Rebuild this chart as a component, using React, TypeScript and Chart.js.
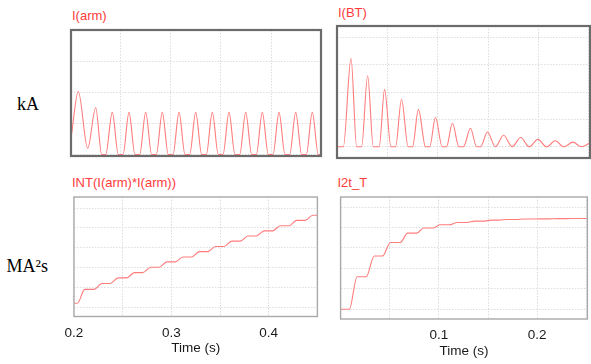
import React, { useEffect, useRef } from 'react';
import { Chart, registerables } from 'chart.js';

Chart.register(...registerables);

// ---- Data ----
// I(arm) [kA] vs time [s]
const ARM_T = [
  0.2, 0.2073, 0.2167, 0.2247, 0.2307, 0.2347, 0.2413, 0.2473, 0.252, 0.258,
  0.264, 0.2687, 0.2747, 0.2807, 0.2853, 0.2913, 0.2973, 0.302, 0.308, 0.314,
  0.3187, 0.3247, 0.3307, 0.3353, 0.3413, 0.3473, 0.352, 0.358, 0.364, 0.3687,
  0.3747, 0.3807, 0.3853, 0.3913, 0.3973, 0.402, 0.408, 0.414, 0.4187, 0.4247,
  0.4307, 0.4353, 0.4413, 0.4473, 0.45,
];
const ARM_KA = [
  0.52, 2.03, 0.2, 1.51, 0, 0, 1.36, 0, 0, 1.36,
  0, 0, 1.36, 0, 0, 1.36, 0, 0, 1.36, 0,
  0, 1.36, 0, 0, 1.36, 0, 0, 1.36, 0, 0,
  1.36, 0, 0, 1.36, 0, 0, 1.36, 0, 0, 1.36,
  0, 0, 1.36, 0, 0,
];

// I(BT) [kA] vs time [s]
const BT_T = [
  0, 0.0063, 0.0139, 0.0195, 0.0244, 0.0304, 0.036, 0.0419, 0.0472, 0.0535,
  0.0581, 0.064, 0.0706, 0.0749, 0.0808, 0.0878, 0.092, 0.0977, 0.1043, 0.1086,
  0.1145, 0.121, 0.1255, 0.1324, 0.1385, 0.1425, 0.1492, 0.1572, 0.1653, 0.1737,
  0.1822, 0.1907, 0.1993, 0.2079, 0.2165, 0.2252, 0.234, 0.2425, 0.251,
];
const BT_KA = [
  0, 0, 3.24, 0, 0, 2.6, 0, 0, 2.1, 0,
  0, 1.74, 0, 0, 1.37, 0, 0, 1.08, 0, 0,
  0.86, 0, 0, 0.68, 0, 0, 0.54, 0, 0.42, 0,
  0.34, 0, 0.27, 0, 0.22, 0, 0.17, 0, 0.14,
];

// INT(I(arm)*I(arm)) [MA²s] vs time [s]
const INT_T = [
  0.2, 0.2035, 0.211, 0.2207, 0.2287, 0.2373, 0.2453, 0.254, 0.262, 0.2707,
  0.2787, 0.2873, 0.2953, 0.304, 0.312, 0.3207, 0.3287, 0.3373, 0.3453, 0.354,
  0.362, 0.3707, 0.3787, 0.3873, 0.3953, 0.404, 0.412, 0.4207, 0.4287, 0.4373,
  0.4453, 0.45,
];
const INT_MA2S = [
  0.19, 0.19, 0.89, 0.89, 1.19, 1.19, 1.47, 1.47, 1.74, 1.74,
  2.01, 2.01, 2.28, 2.28, 2.53, 2.53, 2.8, 2.8, 3.06, 3.06,
  3.33, 3.33, 3.59, 3.59, 3.85, 3.85, 4.11, 4.11, 4.38, 4.38,
  4.64, 4.64,
];

// I2t_T [MA²s] vs time [s]
const I2T_T = [
  0, 0.0089, 0.0168, 0.026, 0.0343, 0.0426, 0.0508, 0.0605, 0.0683, 0.0775,
  0.0845, 0.094, 0.101, 0.1105, 0.1185, 0.1285, 0.1365, 0.1452, 0.1532, 0.1613,
  0.1693, 0.1782, 0.1862, 0.1953, 0.2033, 0.2125, 0.2205, 0.23, 0.238, 0.251,
];
const I2T_MA2S = [
  0, 0, 1.59, 1.59, 2.6, 2.6, 3.26, 3.26, 3.72, 3.72,
  3.97, 3.97, 4.13, 4.13, 4.24, 4.24, 4.31, 4.31, 4.36, 4.36,
  4.39, 4.39, 4.41, 4.41, 4.42, 4.42, 4.43, 4.43, 4.44, 4.44,
];

const LEFT_TICK_LABELS = [0.2, 0.3, 0.4];
const RIGHT_TICK_LABELS = [0.1, 0.2];
const TITLES = ['I(arm)', 'I(BT)', 'INT(I(arm)*I(arm))', 'I2t_T'];
const UNIT_LABELS = ['kA', 'MA²s'];
const X_TITLE = 'Time (s)';

// ---- Styling / layout ----
const SANS = '"Liberation Sans", Arial, Helvetica, sans-serif';
const SERIF = '"Liberation Serif", "Times New Roman", serif';
const LINE_COLOR = '#ff7c7c';
const TITLE_COLOR = '#ff3b3b';
const GRID_COLOR = '#dcdcdc';

type Panel = {
  left: number; top: number; width: number; height: number;
  pad: { left: number; top: number; right: number; bottom: number };
  xMin: number; xMax: number; yMin: number; yMax: number;
  t: number[]; v: number[];
  showX: boolean; labels: number[];
  frameColor: string; frameWidth: number;
};

const PANELS: Panel[] = [
  {
    left: 66, top: 25, width: 260, height: 136,
    pad: { left: 5, top: 5, right: 5, bottom: 5 },
    xMin: 0.2, xMax: 0.45, yMin: -0.048, yMax: 4.016,
    t: ARM_T, v: ARM_KA, showX: false, labels: LEFT_TICK_LABELS,
    frameColor: '#6b6b6b', frameWidth: 2.2,
  },
  {
    left: 332, top: 21, width: 263, height: 142,
    pad: { left: 5, top: 5, right: 5, bottom: 5 },
    xMin: 0, xMax: 0.251, yMin: -0.41, yMax: 4.42,
    t: BT_T, v: BT_KA, showX: false, labels: RIGHT_TICK_LABELS,
    frameColor: '#6b6b6b', frameWidth: 2.2,
  },
  {
    left: 56, top: 192, width: 270, height: 167,
    pad: { left: 15, top: 5, right: 5, bottom: 2.5 },
    xMin: 0.2, xMax: 0.45, yMin: -0.48, yMax: 5.56,
    t: INT_T, v: INT_MA2S, showX: true, labels: LEFT_TICK_LABELS,
    frameColor: '#a9a9a9', frameWidth: 1.4,
  },
  {
    left: 332, top: 192, width: 263, height: 169,
    pad: { left: 5, top: 5, right: 5, bottom: 2 },
    xMin: 0, xMax: 0.251, yMin: -0.48, yMax: 5.49,
    t: I2T_T, v: I2T_MA2S, showX: true, labels: RIGHT_TICK_LABELS,
    frameColor: '#a9a9a9', frameWidth: 1.4,
  },
];

const TITLE_POS = [
  { left: 72, top: 9 },
  { left: 338, top: 5.5 },
  { left: 72, top: 175.5 },
  { left: 337.5, top: 175.5 },
];
const UNIT_POS = [
  { left: 17, top: 95 },
  { left: 6.5, top: 256.5 },
];

const framePlugin = {
  id: 'frame',
  afterDraw(chart: any, _args: any, opts: any) {
    const { ctx, chartArea } = chart;
    ctx.save();
    ctx.strokeStyle = opts.color;
    ctx.lineWidth = opts.width;
    ctx.strokeRect(chartArea.left, chartArea.top, chartArea.right - chartArea.left, chartArea.bottom - chartArea.top);
    ctx.restore();
  },
};

function PanelChart({ p }: { p: Panel }) {
  const ref = useRef<HTMLCanvasElement | null>(null);
  useEffect(() => {
    if (!ref.current) return;
    const data = p.t.map((x, i) => ({ x, y: p.v[i] }));
    const chart = new Chart(ref.current, {
      type: 'line',
      data: {
        datasets: [
          {
            data,
            borderColor: LINE_COLOR,
            borderWidth: 1.1,
            pointRadius: 0,
            fill: false,
            cubicInterpolationMode: 'monotone',
          } as any,
        ],
      },
      options: {
        animation: false,
        responsive: false,
        maintainAspectRatio: false,
        devicePixelRatio: 1,
        events: [],
        layout: { padding: p.pad },
        plugins: {
          legend: { display: false },
          tooltip: { enabled: false },
          title: { display: false },
          frame: { color: p.frameColor, width: p.frameWidth },
        } as any,
        scales: {
          x: {
            type: 'linear',
            min: p.xMin,
            max: p.xMax,
            afterFit: (s: any) => { s.height = p.showX ? 40 : 0; },
            ticks: {
              display: p.showX,
              stepSize: 0.05,
              autoSkip: false,
              includeBounds: false,
              maxRotation: 0,
              padding: 8.6,
              color: '#1a1a1a',
              font: { family: SANS, size: 13.5 },
              callback: (val: any) => {
                const n = Number(val);
                return p.labels.some((l) => Math.abs(l - n) < 1e-6) ? n.toFixed(1) : '';
              },
            },
            grid: { color: GRID_COLOR, drawTicks: false, lineWidth: 1 },
            border: { display: false, dash: [1.5, 1.5] },
            title: {
              display: p.showX,
              text: X_TITLE,
              color: '#1a1a1a',
              padding: 0,
              font: { family: SANS, size: 13.5 },
            },
          },
          y: {
            type: 'linear',
            min: p.yMin,
            max: p.yMax,
            afterFit: (s: any) => { s.width = 0; },
            ticks: { display: false, stepSize: 1, includeBounds: false },
            grid: { color: GRID_COLOR, drawTicks: false, lineWidth: 1 },
            border: { display: false, dash: [1.5, 1.5] },
          },
        },
      } as any,
      plugins: [framePlugin],
    });
    return () => chart.destroy();
  }, [p]);
  return (
    <canvas
      ref={ref}
      width={p.width}
      height={p.height}
      style={{ position: 'absolute', left: p.left, top: p.top, width: p.width, height: p.height, display: 'block' }}
    />
  );
}

export default function App() {
  return (
    <div
      style={{
        position: 'absolute', left: 0, top: 0, width: 591, height: 364,
        overflow: 'hidden', background: '#ffffff',
      }}
    >
      {PANELS.map((p, i) => (
        <PanelChart key={i} p={p} />
      ))}
      {TITLES.map((t, i) => (
        <div
          key={t}
          style={{
            position: 'absolute', left: TITLE_POS[i].left, top: TITLE_POS[i].top,
            font: `13px ${SANS}`, lineHeight: '13px', color: TITLE_COLOR, whiteSpace: 'nowrap',
          }}
        >
          {t}
        </div>
      ))}
      {UNIT_LABELS.map((u, i) => (
        <div
          key={u}
          style={{
            position: 'absolute', left: UNIT_POS[i].left, top: UNIT_POS[i].top,
            font: `18px ${SERIF}`, lineHeight: '18px', color: '#000', whiteSpace: 'nowrap',
          }}
        >
          {u}
        </div>
      ))}
    </div>
  );
}
